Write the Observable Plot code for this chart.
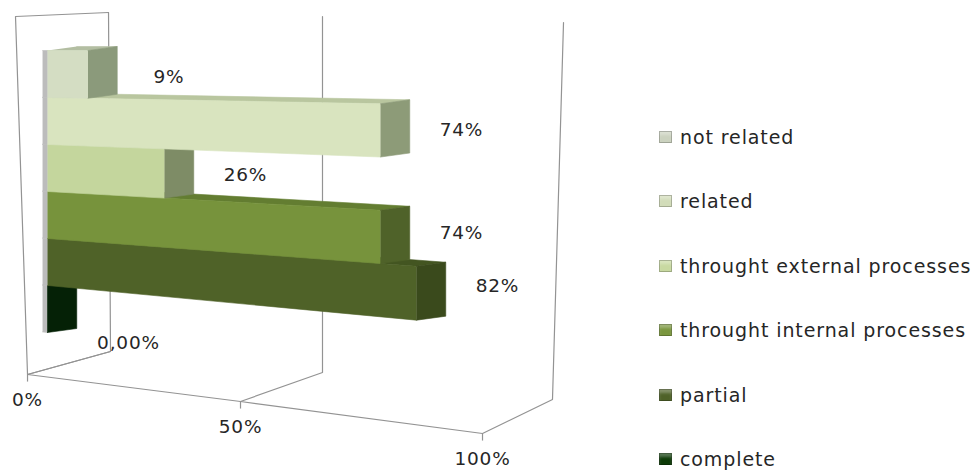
<!DOCTYPE html>
<html>
<head>
<meta charset="utf-8">
<script src="https://cdn.jsdelivr.net/npm/d3@7"></script>
<script src="https://cdn.jsdelivr.net/npm/@observablehq/plot@0.6"></script>
<style>
  html, body { margin: 0; padding: 0; background: #fff; }
  #wrap { position: relative; width: 980px; height: 470px; overflow: hidden; font-family: "DejaVu Sans", sans-serif; }
  #chart { position: absolute; left: 0; top: 0; }
  #chart svg text { letter-spacing: 0.8px; }
  #legend { position: absolute; left: 659px; top: 0; width: 321px; height: 470px; }
  .item { position: absolute; left: 0; height: 22px; display: flex; align-items: center; white-space: nowrap;
          font-size: 19px; color: #262626; letter-spacing: 0.9px; }
  .sw { width: 13px; height: 12px; margin-right: 8px; box-sizing: border-box; flex: none; }
</style>
</head>
<body>
<div id="wrap"><div id="chart"></div><div id="legend"></div></div>
<script>
// ---- data ----
const categories = ["not related", "related", "throught external processes", "throught internal processes", "partial", "complete"];
const values = [9, 74, 26, 74, 82, 0];
const valueLabels = ["9%", "74%", "26%", "74%", "82%", "0,00%"];
const frontColors = ["#d4ddc3", "#d9e4bf", "#c4d69d", "#77933c", "#4f6228", "#072e08"];
const topColors   = ["#b3bea2", "#b9c69f", "#a6b883", "#637d31", "#435521", "#06260a"];
const sideColors  = ["#8b9a7b", "#8d9b78", "#7e8c66", "#4f6229", "#3a4a1c", "#052106"];
const legendColors = ["#cbd2bf", "#d2dcb9", "#c8d9a1", "#7a963e", "#4f6228", "#0d3a07"];
const xTicks = [0, 50, 100];
const xTickLabels = ["0%", "50%", "100%"];

// ---- 3D look (layout constants, in scale units) ----
const K = 0.0018;          // perspective slant of rows
const K_LABEL = 0.0012;    // slant used for value labels
const DEPTH_X = 6.5;       // bar depth, x offset
const DEPTH_Y = -0.085;    // bar depth, y offset
const SHADOW_W = 1.1;      // grey left shadow strip
const LABEL_DX = 18;
const proj = (v, r) => [v, r * (1 + K * v)];
const shift = ([x, y]) => [x + DEPTH_X, y + DEPTH_Y];

// frame of the 3D box (front floor / back floor / back top, per tick) in scale units
const frontFloor = [[-4.44, 6.894], [42.89, 7.468], [96.67, 8.149]];
const backFloor  = [[14.0, 6.404], [61.11, 6.851], [112.22, 7.426]];
const backTop    = [[13.56, -0.809], [61.11, -0.723], [114.67, -0.596]];
const frontTopLeft = [-7.11, -0.723];

// ---- build polygons for bars ----
const faces = [];
const add = (id, color, pts) => pts.forEach(([x, y]) => faces.push({id, color, x, y}));
for (let i = categories.length - 1; i >= 0; i--) {
  const v = values[i];
  add(`${i}-shadow`, "#bcbcbc", [proj(-SHADOW_W, i), proj(0, i), proj(0, i + 1), proj(-SHADOW_W, i + 1)]);
  add(`${i}-top`, topColors[i], [proj(0, i), proj(v, i), shift(proj(v, i)), shift(proj(0, i))]);
  add(`${i}-front`, frontColors[i], [proj(0, i), proj(v, i), proj(v, i + 1), proj(0, i + 1)]);
  add(`${i}-side`, sideColors[i], [proj(v, i), shift(proj(v, i)), shift(proj(v, i + 1)), proj(v, i + 1)]);
}

// frame polylines
const frame = [];
const addLine = (id, pts) => pts.forEach(([x, y]) => frame.push({id, x, y}));
addLine("floor", frontFloor);
xTicks.forEach((t, k) => addLine(`grid${k}`, [frontFloor[k], backFloor[k], backTop[k]]));
addLine("wall", [frontFloor[0], frontTopLeft, backTop[0]]);
addLine("wallFloor", [frontFloor[0], backFloor[0]]);

const ticks = xTicks.map((t, k) => ({t, label: xTickLabels[k], x: frontFloor[k][0], y: frontFloor[k][1]}));
const labels = categories.map((c, i) => ({c, i, v: values[i], label: valueLabels[i]}));
const labelY = d => (d.i + 0.5) * (1 + K_LABEL * d.v);

const chart = Plot.plot({
  width: 650,
  height: 470,
  x: {domain: [0, 100], range: [47, 497], axis: null},
  y: {domain: [0, 6], range: [50, 332], axis: null},
  color: {type: "identity"},
  style: {fontFamily: "DejaVu Sans, sans-serif", fontSize: "18px", color: "#262626", overflow: "visible"},
  marks: [
    Plot.line(frame, {x: "x", y: "y", z: "id", stroke: "#939393", strokeWidth: 1.2}),
    Plot.link(ticks, {x1: "x", x2: "x", y1: "y", y2: d => d.y + 0.15, stroke: "#939393", strokeWidth: 1.2}),
    Plot.text(ticks, {x: "x", y: "y", text: "label", dy: 26, fontSize: 18.5, fill: "#262626"}),
    Plot.line(faces, {x: "x", y: "y", z: "id", fill: "color", stroke: "color", strokeWidth: 0.6}),
    Plot.text(labels.filter(d => d.v > 0), {
      x: d => d.v + LABEL_DX, y: labelY, text: "label", dy: 3, fontSize: 18.5, fill: "#262626"
    }),
    Plot.text(labels.filter(d => d.v === 0), {
      x: d => d.v + LABEL_DX, y: labelY, text: "label", dy: 34, fontSize: 18.5, fill: "#262626"
    })
  ]
});
document.getElementById("chart").appendChild(chart);

// ---- legend ----
const legend = document.getElementById("legend");
categories.forEach((c, i) => {
  const item = document.createElement("div");
  item.className = "item";
  item.style.top = (126 + 64.4 * i) + "px";
  const sw = document.createElement("span");
  sw.className = "sw";
  sw.style.background = legendColors[i];
  sw.style.boxShadow = "inset 0 0 0 1px rgba(0,0,0,0.22), inset 0 4px 3px rgba(255,255,255,0.3)";
  const tx = document.createElement("span");
  tx.textContent = c;
  item.appendChild(sw);
  item.appendChild(tx);
  legend.appendChild(item);
});
</script>
</body>
</html>
